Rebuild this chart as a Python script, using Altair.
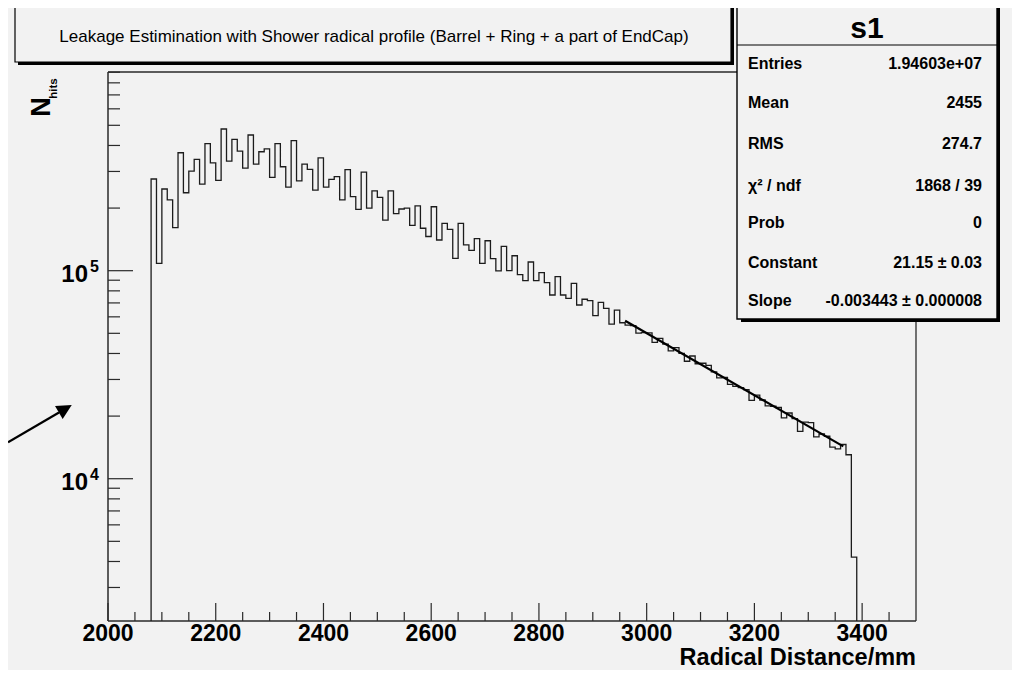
import altair as alt
import pandas as pd

FONT = "Liberation Sans"

# ---------------- data ----------------
# histogram: bins of 10 mm starting at 2080 mm
bin_start = 2080
bin_width = 10
counts = [
    276000, 108500, 247000, 219000, 161000, 369000, 237000, 301000, 343000, 261000,
    408000, 330000, 272000, 480000, 336000, 428000, 376000, 311000, 449000, 325000,
    373000, 385000, 281000, 408000, 316000, 252000, 422000, 270000, 325000, 307000,
    244000, 349000, 252000, 275000, 283000, 219000, 306000, 227000, 197000, 298000,
    200000, 242000, 225000, 175000, 242000, 188000, 198000, 200000, 165000, 205000,
    160000, 146000, 203000, 140500, 169000, 158000, 114700, 169000, 133000, 125300,
    142600, 108500, 139300, 114200, 99700, 131000, 100000, 118000, 95700, 89500,
    110100, 89500, 97800, 87600, 76400, 93600, 76400, 73600, 87000, 68400,
    72900, 71800, 60800, 70500, 65900, 55400, 64700, 56200, 54800, 54500,
    50100, 50400, 50200, 45200, 47300, 44400, 41200, 42700, 40000, 36700,
    38900, 35700, 35900, 35100, 32600, 30500, 30700, 28400, 27800, 27400,
    26800, 23800, 25200, 23900, 22400, 22300, 22000, 19600, 20700, 19450,
    16900, 18700, 18600, 15900, 16400, 16000, 14200, 13900, 14600, 13040, 4200,
]

# exponential fit line (end points)
fit_x = [2960, 3365]
fit_y = [57500, 14300]

# axes
x_label_vals = [2000, 2200, 2400, 2600, 2800, 3000, 3200, 3400]
x_labels = ["2000", "2200", "2400", "2600", "2800", "3000", "3200", "3400"]
x_minor = [2050, 2100, 2150, 2250, 2300, 2350, 2450, 2500, 2550, 2650, 2700, 2750,
           2850, 2900, 2950, 3050, 3100, 3150, 3250, 3300, 3350, 3450]
y_major = [10000, 100000]
y_label_base = "10"
y_exp = ["4", "5"]
y_minor = [3000, 4000, 5000, 6000, 7000, 8000, 9000,
           20000, 30000, 40000, 50000, 60000, 70000, 80000, 90000,
           200000, 300000, 400000, 500000, 600000, 700000, 800000, 900000]

# stats box
stats_name = "s1"
stats_labels = ["Entries", "Mean", "RMS", "\u03c7\u00b2 / ndf", "Prob", "Constant", "Slope"]
stats_values = ["1.94603e+07", "2455", "274.7", "1868 / 39", "0",
                "21.15 \u00b1 0.03", "-0.003443 \u00b1 0.000008"]

title_text = "Leakage Estimination with Shower radical profile (Barrel + Ring + a part of EndCap)"
x_title = "Radical Distance/mm"
y_title = "N"
y_title_sub = "hits"

X_DOMAIN = [2000, 3500]
Y_DOMAIN = [2070, 902000]

# ---------------- layout ----------------
W, H = 808, 549
xs = alt.Scale(domain=X_DOMAIN, nice=False, zero=False)
ys = alt.Scale(type="log", domain=Y_DOMAIN, nice=False)
AXC = "#2a2a2a"


def one():
    return alt.Data(values=[{"a": 1}])


def rect(x1, y1, x2, y2, fill, stroke=None, sw=1.0):
    kw = dict(fill=fill)
    if stroke is not None:
        kw.update(stroke=stroke, strokeWidth=sw)
    return alt.Chart(one()).mark_rect(**kw).encode(
        x=alt.value(x1), x2=alt.value(x2), y=alt.value(y1), y2=alt.value(y2))


def seg(x1, y1, x2, y2, color=AXC, sw=1.0):
    return alt.Chart(one()).mark_rule(color=color, strokeWidth=sw).encode(
        x=alt.value(x1), x2=alt.value(x2), y=alt.value(y1), y2=alt.value(y2))


def txt(x, y, s, size, weight="normal", align="left", baseline="alphabetic", angle=0):
    return alt.Chart(one()).mark_text(
        font=FONT, fontSize=size, fontWeight=weight, align=align,
        baseline=baseline, angle=angle, color="black").encode(
        x=alt.value(x), y=alt.value(y), text=alt.value(s))


# histogram as a step outline
rows = [{"i": 0, "x": bin_start, "y": Y_DOMAIN[0]}]
for k, c in enumerate(counts):
    rows.append({"i": k + 1, "x": bin_start + k * bin_width, "y": c})
last_edge = bin_start + len(counts) * bin_width
rows.append({"i": len(counts) + 1, "x": last_edge, "y": counts[-1]})
rows.append({"i": len(counts) + 2, "x": last_edge, "y": Y_DOMAIN[0]})
hist_df = pd.DataFrame(rows)

hist = alt.Chart(hist_df).mark_line(
    interpolate="step-after", color="#1c1c1c", strokeWidth=1.3).encode(
    x=alt.X("x:Q", scale=xs, axis=None),
    y=alt.Y("y:Q", scale=ys, axis=None),
    order="i:Q",
)

fit = alt.Chart(pd.DataFrame({"x": fit_x, "y": fit_y})).mark_line(
    color="black", strokeWidth=2.2).encode(
    x=alt.X("x:Q", scale=xs, axis=None), y=alt.Y("y:Q", scale=ys, axis=None))

# inward ticks
xt_major = alt.Chart(pd.DataFrame({"v": x_label_vals})).mark_rule(
    color=AXC, strokeWidth=1.2).encode(
    x=alt.X("v:Q", scale=xs, axis=None), y=alt.value(H), y2=alt.value(H - 18))
xt_minor = alt.Chart(pd.DataFrame({"v": x_minor})).mark_rule(
    color=AXC, strokeWidth=1.2).encode(
    x=alt.X("v:Q", scale=xs, axis=None), y=alt.value(H), y2=alt.value(H - 9))
yt_major = alt.Chart(pd.DataFrame({"v": y_major})).mark_rule(
    color=AXC, strokeWidth=1.2).encode(
    y=alt.Y("v:Q", scale=ys, axis=None), x=alt.value(0), x2=alt.value(25))
yt_minor = alt.Chart(pd.DataFrame({"v": y_minor})).mark_rule(
    color=AXC, strokeWidth=1.2).encode(
    y=alt.Y("v:Q", scale=ys, axis=None), x=alt.value(0), x2=alt.value(12))

xlab = alt.Chart(pd.DataFrame({"v": x_label_vals, "t": x_labels})).mark_text(
    font=FONT, fontSize=23, fontWeight="bold", align="center",
    baseline="alphabetic", color="black").encode(
    x=alt.X("v:Q", scale=xs, axis=None), y=alt.value(H + 20), text="t:N")

ylab_df = pd.DataFrame({"v": y_major, "e": y_exp})
ylab = alt.Chart(ylab_df).mark_text(
    font=FONT, fontSize=24, fontWeight="bold", align="right",
    baseline="alphabetic", dy=11, color="black").encode(
    y=alt.Y("v:Q", scale=ys, axis=None), x=alt.value(-20), text=alt.value(y_label_base))
yexp = alt.Chart(ylab_df).mark_text(
    font=FONT, fontSize=16, fontWeight="bold", align="left",
    baseline="alphabetic", dy=1, color="black").encode(
    y=alt.Y("v:Q", scale=ys, axis=None), x=alt.value(-18), text="e:N")

layers = [
    rect(-108, -72, -106, 600, "#FFFFE6"),
    seg(0, 0, W, 0, sw=1.3),
    seg(W, 0, W, H, sw=1.3),
    seg(0, 0, 0, H, sw=1.5),
    seg(0, H, W, H, sw=1.5),
    xt_major, xt_minor, yt_major, yt_minor,
    hist, fit, xlab, ylab, yexp,
    txt(W, 593, x_title, 23.5, "bold", align="right"),
    txt(-58, 35, y_title, 27, "bold", align="center", angle=270),
    txt(-51, 16.5, y_title_sub, 11.5, "bold", align="center", angle=270),
    # title box
    rect(-90, -64, 626, -7, "black"),
    rect(-93, -67, 623, -10, "#F2F2F2", "black", 1.2),
    txt(266, -30.5, title_text, 17, "normal", align="center"),
    # stats box
    rect(633, -64, 892, 250, "black"),
    rect(629, -67, 889, 247, "#F2F2F2", "black", 1.4),
    seg(629, -27, 889, -27, color="black", sw=1.2),
    txt(759, -34, stats_name, 30, "bold", align="center"),
]
row_base = [-3, 35.5, 76.5, 118.5, 156, 196, 234]
for lab, val, yb in zip(stats_labels, stats_values, row_base):
    layers.append(txt(640, yb, lab, 16, "bold", align="left"))
    layers.append(txt(874, yb, val, 16, "bold", align="right"))

# arrow annotation
layers.append(seg(-100, 370.3, -49, 340.5, color="black", sw=2.2))
layers.append(alt.Chart(one()).mark_point(
    shape="M1,0L-1,-1L-1,1Z", size=225, filled=True, color="black",
    opacity=1, angle=329.4).encode(x=alt.value(-42.7), y=alt.value(336.7)))

chart = alt.layer(*layers).properties(
    width=W, height=H,
    padding={"left": 100, "top": 64, "right": 96, "bottom": 49},
    autosize=alt.AutoSizeParams(type="none"),
).configure(background="#F2F2F2").configure_view(strokeWidth=0)

chart.save("out.html", embed_options={"renderer": "svg", "actions": False})
